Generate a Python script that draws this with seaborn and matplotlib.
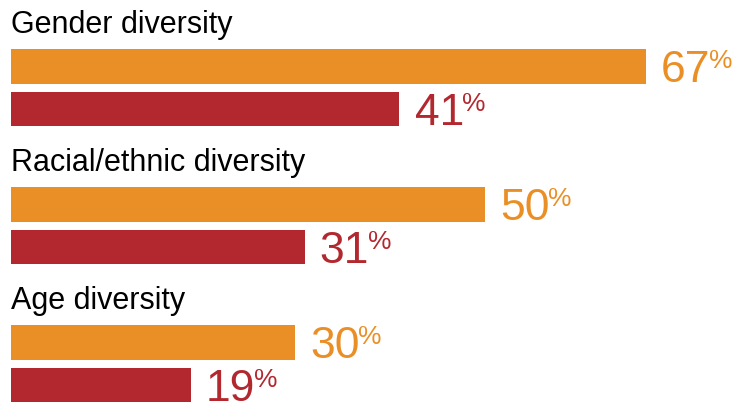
import pandas as pd
import matplotlib
matplotlib.use("Agg")
import matplotlib.pyplot as plt
import seaborn as sns

# ==========================
# Data
# ==========================

categories = ["Gender diversity", "Racial/ethnic diversity", "Age diversity"]
series_names = ["Group A", "Group B"]
values_a = [67, 50, 30]
values_b = [41, 31, 19]

orange = "#EA8F26"
red = "#B3282F"

df = pd.DataFrame({
    "category": categories * 2,
    "series": [series_names[0]] * 3 + [series_names[1]] * 3,
    "value": values_a + values_b,
})

# ==========================
# Plot
# ==========================

sns.set_style("white")
plt.rcParams["font.family"] = ["Liberation Sans", "DejaVu Sans"]

fig = plt.figure(figsize=(7.36, 4.05), dpi=100)
ax = fig.add_axes([0, 0, 1, 1])

sns.barplot(
    data=df,
    y="category",
    x="value",
    hue="series",
    palette=[orange, red],
    saturation=1,
    orient="h",
    width=0.62,
    gap=0.19,
    linewidth=0,
    legend=False,
    ax=ax,
)

# layout: 0% at ~10px, ~9.48px per percent; groups ~138px apart
ax.set_xlim(-1.11, 76.5)
ax.set_ylim(2.30, -0.636)
ax.axis("off")

# group titles
for i, cat in enumerate(categories):
    ax.text(0.05, i - 0.395, cat, fontsize=22, color="black",
            ha="left", va="baseline")

# value labels
colors = [orange, red]
vals = [values_a, values_b]
for s, container in enumerate(ax.containers):
    for j, bar in enumerate(container):
        v = vals[s][j]
        yc = bar.get_y() + bar.get_height() / 2
        t = ax.text(v + 1.6, yc + 0.116, f"{v}", fontsize=32,
                    color=colors[s], ha="left", va="baseline")
        ax.annotate("%", xy=(1, 1), xycoords=t, xytext=(-1, 1),
                    textcoords="offset points", fontsize=19,
                    color=colors[s], ha="left", va="top")

fig.savefig("out.png", dpi=100)
